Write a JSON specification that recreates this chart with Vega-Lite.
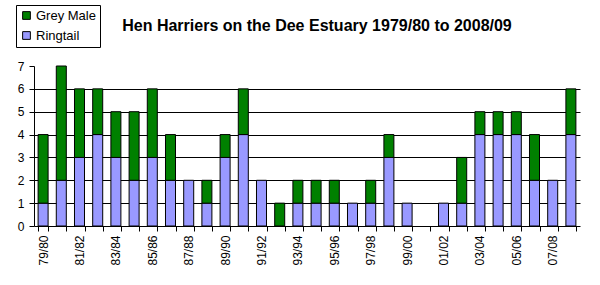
{
  "$schema": "https://vega.github.io/schema/vega-lite/v6.json",
  "width": 546,
  "height": 160,
  "autosize": {"type": "none"},
  "padding": {"left": 34, "top": 66, "right": 20, "bottom": 59},
  "background": "white",
  "title": {
    "text": "Hen Harriers on the Dee Estuary 1979/80 to 2008/09",
    "font": "Liberation Sans",
    "fontSize": 16,
    "fontWeight": "bold",
    "color": "black",
    "anchor": "middle",
    "baseline": "alphabetic",
    "dx": 10,
    "offset": 0,
    "dy": 42
  },
  "data": {
    "values": [
      {"season": "79/80", "series": "Ringtail", "n": 1, "o": 1}, {"season": "79/80", "series": "Grey Male", "n": 3, "o": 2},
      {"season": "80/81", "series": "Ringtail", "n": 2, "o": 1}, {"season": "80/81", "series": "Grey Male", "n": 5, "o": 2},
      {"season": "81/82", "series": "Ringtail", "n": 3, "o": 1}, {"season": "81/82", "series": "Grey Male", "n": 3, "o": 2},
      {"season": "82/83", "series": "Ringtail", "n": 4, "o": 1}, {"season": "82/83", "series": "Grey Male", "n": 2, "o": 2},
      {"season": "83/84", "series": "Ringtail", "n": 3, "o": 1}, {"season": "83/84", "series": "Grey Male", "n": 2, "o": 2},
      {"season": "84/85", "series": "Ringtail", "n": 2, "o": 1}, {"season": "84/85", "series": "Grey Male", "n": 3, "o": 2},
      {"season": "85/86", "series": "Ringtail", "n": 3, "o": 1}, {"season": "85/86", "series": "Grey Male", "n": 3, "o": 2},
      {"season": "86/87", "series": "Ringtail", "n": 2, "o": 1}, {"season": "86/87", "series": "Grey Male", "n": 2, "o": 2},
      {"season": "87/88", "series": "Ringtail", "n": 2, "o": 1}, {"season": "87/88", "series": "Grey Male", "n": 0, "o": 2},
      {"season": "88/89", "series": "Ringtail", "n": 1, "o": 1}, {"season": "88/89", "series": "Grey Male", "n": 1, "o": 2},
      {"season": "89/90", "series": "Ringtail", "n": 3, "o": 1}, {"season": "89/90", "series": "Grey Male", "n": 1, "o": 2},
      {"season": "90/91", "series": "Ringtail", "n": 4, "o": 1}, {"season": "90/91", "series": "Grey Male", "n": 2, "o": 2},
      {"season": "91/92", "series": "Ringtail", "n": 2, "o": 1}, {"season": "91/92", "series": "Grey Male", "n": 0, "o": 2},
      {"season": "92/93", "series": "Ringtail", "n": 0, "o": 1}, {"season": "92/93", "series": "Grey Male", "n": 1, "o": 2},
      {"season": "93/94", "series": "Ringtail", "n": 1, "o": 1}, {"season": "93/94", "series": "Grey Male", "n": 1, "o": 2},
      {"season": "94/95", "series": "Ringtail", "n": 1, "o": 1}, {"season": "94/95", "series": "Grey Male", "n": 1, "o": 2},
      {"season": "95/96", "series": "Ringtail", "n": 1, "o": 1}, {"season": "95/96", "series": "Grey Male", "n": 1, "o": 2},
      {"season": "96/97", "series": "Ringtail", "n": 1, "o": 1}, {"season": "96/97", "series": "Grey Male", "n": 0, "o": 2},
      {"season": "97/98", "series": "Ringtail", "n": 1, "o": 1}, {"season": "97/98", "series": "Grey Male", "n": 1, "o": 2},
      {"season": "98/99", "series": "Ringtail", "n": 3, "o": 1}, {"season": "98/99", "series": "Grey Male", "n": 1, "o": 2},
      {"season": "99/00", "series": "Ringtail", "n": 1, "o": 1}, {"season": "99/00", "series": "Grey Male", "n": 0, "o": 2},
      {"season": "00/01", "series": "Ringtail", "n": 0, "o": 1}, {"season": "00/01", "series": "Grey Male", "n": 0, "o": 2},
      {"season": "01/02", "series": "Ringtail", "n": 1, "o": 1}, {"season": "01/02", "series": "Grey Male", "n": 0, "o": 2},
      {"season": "02/03", "series": "Ringtail", "n": 1, "o": 1}, {"season": "02/03", "series": "Grey Male", "n": 2, "o": 2},
      {"season": "03/04", "series": "Ringtail", "n": 4, "o": 1}, {"season": "03/04", "series": "Grey Male", "n": 1, "o": 2},
      {"season": "04/05", "series": "Ringtail", "n": 4, "o": 1}, {"season": "04/05", "series": "Grey Male", "n": 1, "o": 2},
      {"season": "05/06", "series": "Ringtail", "n": 4, "o": 1}, {"season": "05/06", "series": "Grey Male", "n": 1, "o": 2},
      {"season": "06/07", "series": "Ringtail", "n": 2, "o": 1}, {"season": "06/07", "series": "Grey Male", "n": 2, "o": 2},
      {"season": "07/08", "series": "Ringtail", "n": 2, "o": 1}, {"season": "07/08", "series": "Grey Male", "n": 0, "o": 2},
      {"season": "08/09", "series": "Ringtail", "n": 4, "o": 1}, {"season": "08/09", "series": "Grey Male", "n": 2, "o": 2}
    ]
  },
  "transform": [{"filter": "datum.n > 0"}],
  "mark": {"type": "bar", "stroke": "black", "strokeWidth": 1},
  "encoding": {
    "x": {
      "field": "season",
      "type": "ordinal",
      "sort": null,
      "scale": {"paddingInner": 0.45, "paddingOuter": 0.225, "domain": ["79/80","80/81","81/82","82/83","83/84","84/85","85/86","86/87","87/88","88/89","89/90","90/91","91/92","92/93","93/94","94/95","95/96","96/97","97/98","98/99","99/00","00/01","01/02","02/03","03/04","04/05","05/06","06/07","07/08","08/09"]},
      "axis": {
        "title": null,
        "tickBand": "extent",
        "labelAngle": -90,
        "labelExpr": "indexof(['79/80','81/82','83/84','85/86','87/88','89/90','91/92','93/94','95/96','97/98','99/00','01/02','03/04','05/06','07/08'], datum.value) >= 0 ? datum.value : ''",
        "labelFont": "Liberation Sans",
        "labelFontSize": 12,
        "labelColor": "black",
        "labelPadding": 4,
        "tickColor": "black",
        "tickSize": 5,
        "domainColor": "black",
        "grid": false,
        "labelOverlap": false
      }
    },
    "y": {
      "aggregate": "sum",
      "field": "n",
      "type": "quantitative",
      "stack": "zero",
      "scale": {"domain": [0, 7], "nice": false},
      "axis": {
        "title": null,
        "values": [0, 1, 2, 3, 4, 5, 6, 7],
        "labelFont": "Liberation Sans",
        "labelFontSize": 12,
        "labelColor": "black",
        "labelPadding": 5,
        "tickColor": "black",
        "tickSize": 5,
        "domainColor": "black",
        "grid": true,
        "gridColor": "black",
        "gridOpacity": {"condition": {"test": "datum.value == 7 || datum.value == 0", "value": 0}, "value": 1}
      }
    },
    "color": {
      "field": "series",
      "type": "nominal",
      "scale": {"domain": ["Grey Male", "Ringtail"], "range": ["#008000", "#9999FF"]},
      "legend": {
        "title": null,
        "orient": "none",
        "legendX": -18,
        "legendY": -61,
        "strokeColor": "black",
        "fillColor": "white",
        "padding": 4,
        "symbolType": "square",
        "symbolSize": 60,
        "symbolStrokeColor": "black",
        "symbolStrokeWidth": 1,
        "symbolOpacity": 1,
        "labelFont": "Liberation Sans",
        "labelFontSize": 13,
        "labelColor": "black",
        "labelOffset": 3,
        "rowPadding": 6
      }
    },
    "order": {"field": "o", "type": "quantitative"}
  },
  "config": {
    "view": {"stroke": null},
    "axis": {"domainWidth": 1, "tickWidth": 1, "gridWidth": 1}
  }
}
